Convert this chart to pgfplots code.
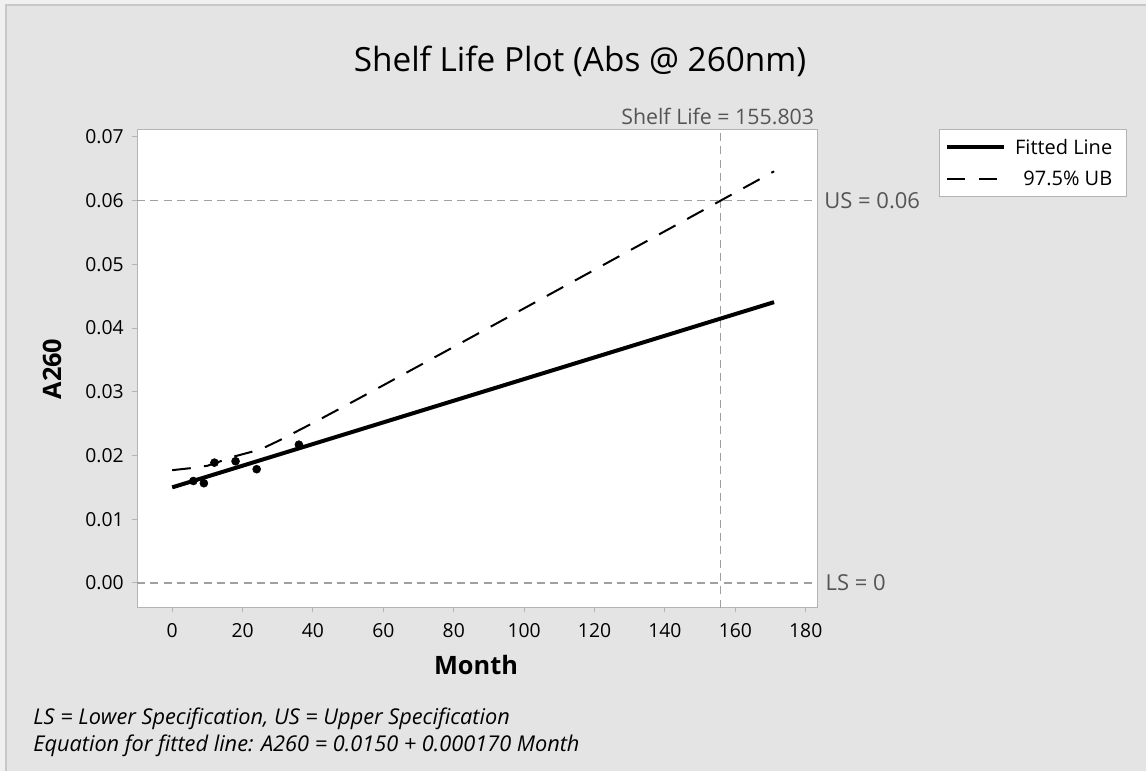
\documentclass[border=0pt]{standalone}
\usepackage{fontspec}
\setmainfont{Open Sans}
\usepackage{pgfplots}
\pgfplotsset{compat=1.18}
\definecolor{bg}{HTML}{E4E4E4}
\definecolor{outer}{HTML}{F0F0F0}
\definecolor{edge}{HTML}{C8C8C8}
\definecolor{frame}{HTML}{B4B4B4}
\definecolor{refl}{HTML}{A0A0A0}
\definecolor{reftxt}{HTML}{555555}
\begin{document}
\begin{tikzpicture}
\useasboundingbox (0,0) rectangle (859.5pt,578.25pt);
\fill[outer] (0,0) rectangle (859.5pt,578.25pt);
\fill[bg] (4.5pt,0) rectangle (859.5pt,574.5pt);
\draw[edge, line width=0.9pt] (4.5pt,0) -- (4.5pt,574.5pt) -- (859.5pt,574.5pt);
\begin{axis}[
  at={(102.75pt,122.5pt)}, anchor=south west, scale only axis,
  width=510pt, height=358.3pt,
  xmin=-10, xmax=183.2, ymin=-0.00388, ymax=0.0711,
  axis background/.style={fill=white},
  axis line style={frame, line width=0.75pt},
  tick style={frame, line width=0.75pt},
  major tick length=3.5pt, tick align=outside, tick pos=left,
  xtick={0,20,...,180},
  ytick={0,0.01,0.02,0.03,0.04,0.05,0.06,0.07},
  scaled y ticks=false,
  /pgf/number format/assume math mode=true,
  yticklabel style={xshift=-3pt, /pgf/number format/.cd, fixed, fixed zerofill, precision=2},
  xticklabel style={yshift=-4.5pt},
  ticklabel style={font=\fontsize{14.5}{17}\selectfont, text=black},
  legend cell align=right,
  legend style={at={(1.456,1.002)}, anchor=north east, draw=frame, fill=white,
    font=\fontsize{15}{18}\selectfont, inner xsep=4pt, inner ysep=5pt,
    row sep=7pt, line width=0.75pt, nodes={inner xsep=6.75pt}},
  legend image code/.code={\draw[#1] (0pt,0pt) -- (43pt,0pt);},
  clip=false,
]
% reference lines
\addplot[refl, line width=1.1pt, dash pattern=on 6pt off 4pt, forget plot] coordinates {(-10,0.06) (183.2,0.06)};
\addplot[refl, line width=1.1pt, dash pattern=on 6pt off 4pt, forget plot] coordinates {(-10,0) (183.2,0)};
\addplot[refl, line width=1.1pt, dash pattern=on 6pt off 4pt, forget plot] coordinates {(155.803,-0.00388) (155.803,0.0711)};
% fitted line
\addplot[black, line width=3pt, line cap=butt] coordinates {
  (0,0.0150) (20,0.0184) (40,0.0218) (60,0.0252) (80,0.0286) (100,0.0320)
  (120,0.0354) (140,0.0388) (155.803,0.04149) (171,0.04407)};
\addlegendentry{Fitted Line}
% 97.5% upper bound
\addplot[black, line width=1.5pt, dash pattern=on 14pt off 10pt] coordinates {
  (0,0.01770) (5,0.01800) (10,0.01839) (17.5,0.01983) (25,0.02094) (30,0.02225)
  (40,0.02510) (50,0.02805) (60,0.03103) (80,0.03705) (100,0.04310)
  (120,0.04915) (140,0.05521) (155.803,0.0600) (171,0.0646)};
\addlegendentry{97.5\% UB}
% data points
\addplot[only marks, mark=*, mark size=3pt, black, forget plot] coordinates {
  (6,0.0160) (9,0.01565) (12,0.01888) (18,0.0191) (24,0.01785) (36,0.0217)};
\node[anchor=west, text=reftxt, font=\fontsize{16.5}{19}\selectfont, xshift=2pt] at (axis cs:183.2,0.06) {US = 0.06};
\node[anchor=west, text=reftxt, font=\fontsize{16.5}{19}\selectfont, xshift=3pt] at (axis cs:183.2,0) {LS = 0};
\node[anchor=south east, text=reftxt, font=\fontsize{16}{19}\selectfont, inner xsep=2pt, inner ysep=4pt] at (axis cs:183.2,0.0711) {Shelf Life = 155.803};
\end{axis}
\node[font=\fontsize{25}{30}\selectfont] at (435pt,532.5pt) {Shelf Life Plot (Abs @ 260nm)};
\node[font=\bfseries\fontsize{19}{23}\selectfont, rotate=90] at (39pt,301.5pt) {A260};
\node[font=\bfseries\fontsize{19}{23}\selectfont] at (357pt,79.5pt) {Month};
\node[anchor=west, font=\itshape\fontsize{16.3}{19}\selectfont, inner sep=0pt] at (24.75pt,39pt) {LS = Lower Specification, US = Upper Specification};
\node[anchor=west, font=\itshape\fontsize{16.3}{19}\selectfont, inner sep=0pt] at (24.75pt,18.75pt) {Equation for fitted line: A260 = 0.0150 + 0.000170 Month};
\end{tikzpicture}
\end{document}
